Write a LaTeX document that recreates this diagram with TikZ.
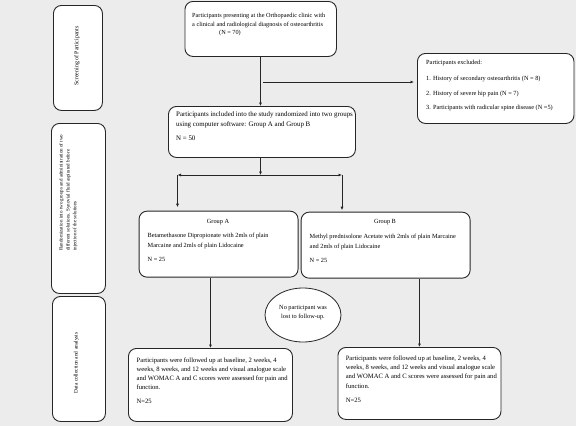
\documentclass[tikz,border=0pt]{standalone}
\usepackage{fontspec}
\setmainfont{Liberation Serif}
\usetikzlibrary{arrows.meta,calc}
\definecolor{bgc}{RGB}{236,236,236}
\tikzset{
  box/.style={draw=black!85, line width=0.9pt, rounded corners=8pt, fill=white, inner sep=0pt, anchor=north west},
  ln/.style={anchor=west, inner sep=0pt, text height=4.4pt, text depth=1.4pt},
  ftop/.style={font=\fontsize{6.25}{8}\selectfont},
  fex/.style={font=\fontsize{6.3}{8}\selectfont},
  frd/.style={font=\fontsize{6.9}{8}\selectfont},
  fgr/.style={font=\fontsize{6.3}{8}\selectfont},
  fbt/.style={font=\fontsize{6.6}{8}\selectfont},
  arr/.style={draw=black!85, line width=0.8pt, -{Latex[length=3.5pt,width=3pt]}},
  plain/.style={draw=black!85, line width=0.8pt},
  side/.style={inner sep=0pt, rotate=90}
}
\begin{document}
\begin{tikzpicture}[x=1pt,y=-1pt]
\useasboundingbox[fill=bgc] (0,0) rectangle (576,426);
% left side boxes
\node[box, minimum width=49pt, minimum height=105pt] (s1) at (53,5) {};
\node[box, minimum width=54pt, minimum height=170pt] (s2) at (51,123) {};
\node[box, minimum width=53pt, minimum height=125pt] (s3) at (52,296) {};
\node[side, font=\fontsize{5.9}{7}\selectfont] (s1t) at ($(s1.center)+(-1,-2)$) {Screening of Participants};
\node[side, anchor=north west, align=left, font=\fontsize{5}{6.8}\selectfont] (s2t) at (59,251) {Randomization into two groups and administration of two\\different solutions. Synovial fluid aspirated before\\injection of the solutions};
\node[side, font=\fontsize{5.4}{7}\selectfont] (s3t) at ($(s3.center)+(-2.5,4)$) {Data collection and analysis};
% top box
\node[box, minimum width=151.5pt, minimum height=55pt] (top) at (184.5,1) {};
\node[ln, ftop] (t1) at (192,16) {Participants presenting at the Orthopaedic clinic with};
\node[ln, ftop] (t2) at (192,24.5) {a clinical and radiological diagnosis of osteoarthritis};
\node[ln, ftop] (t3) at (219,33) {(N = 70)};
% excluded box
\node[box, minimum width=156.5pt, minimum height=70pt] (ex) at (417,53) {};
\node[ln, fex] (e1) at (426,63) {Participants excluded:};
\node[ln, fex] (e2) at (426,79) {1. History of secondary osteoarthritis (N = 8)};
\node[ln, fex] (e3) at (426,93.5) {2. History of severe hip pain (N = 7)};
\node[ln, fex] (e4) at (426,108) {3. Participants with radicular spine disease (N =5)};
% randomized box
\node[box, minimum width=187pt, minimum height=51pt] (rd) at (168,106) {};
\node[ln, frd] (r1) at (176,115) {Participants included into the study randomized into two groups};
\node[ln, frd] (r2) at (176,124.5) {using computer software: Group A and Group B};
\node[ln, frd] (r3) at (176,138.5) {N = 50};
% group A
\node[box, minimum width=159pt, minimum height=66pt] (ga) at (138.6,210.7) {};
\node[ln, fgr, anchor=center] (a0) at (218,222) {Group A};
\node[ln, fgr] (a1) at (147.5,236) {Betamethasone Dipropionate with 2mls of plain};
\node[ln, fgr] (a2) at (147.5,246) {Marcaine and 2mls of plain Lidocaine};
\node[ln, fgr] (a3) at (147.5,260) {N = 25};
% group B
\node[box, minimum width=169pt, minimum height=66pt] (gb) at (300.7,211.7) {};
\node[ln, fgr, anchor=center] (b0) at (385,222) {Group B};
\node[ln, fgr] (b1) at (309.5,237) {Methyl prednisolone Acetate with 2mls of plain Marcaine};
\node[ln, fgr] (b2) at (309.5,247) {and 2mls of plain Lidocaine};
\node[ln, fgr] (b3) at (309.5,261) {N = 25};
% ellipse
\draw[plain, fill=white] (303,315) ellipse [x radius=38, y radius=27];
\node[ln, fgr, anchor=center] (l1) at (303,308) {No participant was};
\node[ln, fgr, anchor=center] (l2) at (303,317) {lost to follow-up.};
% bottom boxes
\node[box, minimum width=164pt, minimum height=73pt] (fa) at (128,348) {};
\node[ln, fbt] (fa1) at (136.5,361) {Participants were followed up at baseline, 2 weeks, 4};
\node[ln, fbt] (fa2) at (136.5,370) {weeks, 8 weeks, and 12 weeks and visual analogue scale};
\node[ln, fbt] (fa3) at (136.5,379) {and WOMAC A and C scores were assessed for pain and};
\node[ln, fbt] (fa4) at (136.5,388) {function.};
\node[ln, fbt] (fa5) at (136.5,402) {N=25};
\node[box, minimum width=163pt, minimum height=72pt] (fb) at (337.5,347) {};
\node[ln, fbt] (fb1) at (345.6,359) {Participants were followed up at baseline, 2 weeks, 4};
\node[ln, fbt] (fb2) at (345.6,368) {weeks, 8 weeks, and 12 weeks and visual analogue scale};
\node[ln, fbt] (fb3) at (345.6,377) {and WOMAC A and C scores were assessed for pain and};
\node[ln, fbt] (fb4) at (345.6,387) {function.};
\node[ln, fbt] (fb5) at (345.6,401) {N=25};
% connectors
\coordinate (br) at (260.5,82);
\coordinate (sp) at (260.5,175);
\coordinate (spl) at (177.5,175);
\coordinate (spr) at (342,175);
\draw[arr] (top.south -| br) -- (br |- rd.north);
\draw[arr, shorten >=3pt] (263,82) -- (ex.west |- br);
\draw[arr] (rd.south -| sp) -- (sp);
\draw[arr] (sp) -- (spl);
\draw[arr] (sp) -- (spr);
\draw[arr, shorten >=3.5pt] (spl) -- (spl |- ga.north);
\draw[arr, shorten >=1.5pt] (spr) -- (spr |- gb.north);
\draw[arr] (ga.south -| fa.north) -- (fa.north);
\draw[arr] (gb.south -| fb.north) -- (fb.north);
\end{tikzpicture}
\end{document}
